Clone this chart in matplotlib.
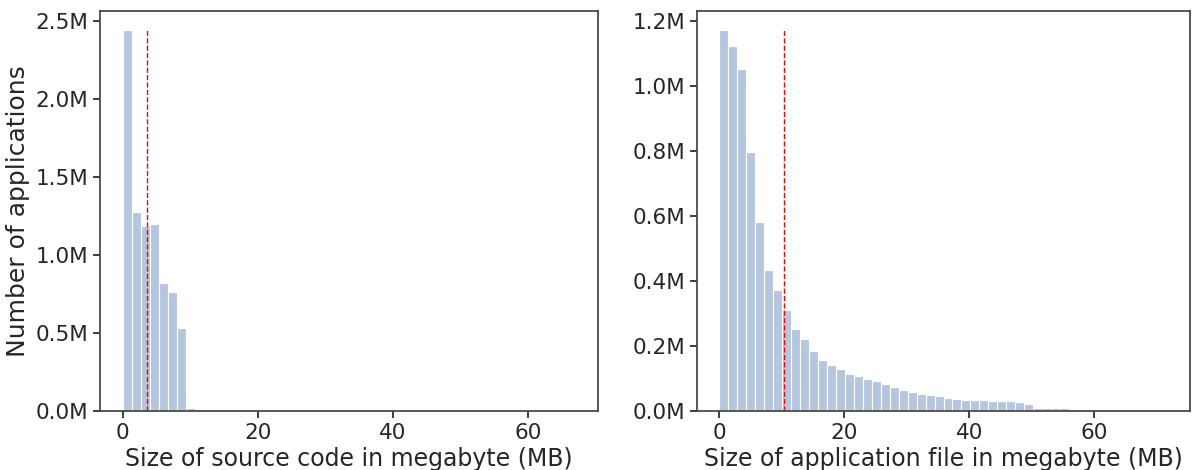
import numpy as np
import matplotlib
matplotlib.use('Agg')
import matplotlib.pyplot as plt
from matplotlib.ticker import FuncFormatter, MultipleLocator
import seaborn as sns

# bin counts (millions), 50 equal bins each
src_counts = [2.444, 1.277, 1.189, 1.202, 0.823, 0.761, 0.533, 0.019] + [0.0] * 41 + [0.0005]
src_max = 67.0
src_mean = 3.57

app_counts = [1.173, 1.123, 1.053, 0.797, 0.581, 0.435, 0.373, 0.312, 0.253, 0.221,
              0.185, 0.157, 0.142, 0.130, 0.114, 0.107, 0.099, 0.093, 0.083, 0.074,
              0.065, 0.057, 0.052, 0.048, 0.045, 0.040, 0.037, 0.035, 0.035, 0.034,
              0.032, 0.032, 0.032, 0.028, 0.022, 0.010, 0.010, 0.009, 0.009, 0.007,
              0.007, 0.007, 0.007, 0.007, 0.007, 0.006, 0.006, 0.006, 0.005, 0.002]
app_max = 71.7
app_mean = 10.37

sns.set_theme(style='ticks')
plt.rcParams['font.family'] = ['DejaVu Sans']

fig = plt.figure(figsize=(11.94, 4.70), dpi=100)
ax1 = fig.add_axes([100/1194, 1-411/470, 498/1194, 400/470])
ax2 = fig.add_axes([697/1194, 1-411/470, 493/1194, 400/470])

bar_col = '#b6c6df'
fmt = FuncFormatter(lambda v, p: '%.1fM' % (v / 1e6))

def draw(ax, counts, xmax, mean, step, xlabel):
    counts = np.array(counts) * 1e6
    edges = np.linspace(0, xmax, len(counts) + 1)
    ax.bar(edges[:-1], counts, width=edges[1] - edges[0], align='edge',
           color=bar_col, edgecolor='white', linewidth=0.8)
    ax.vlines(mean, 0, counts.max(), colors='red', linestyles='--', linewidth=1)
    ax.yaxis.set_major_locator(MultipleLocator(step))
    ax.yaxis.set_major_formatter(fmt)
    ax.xaxis.set_major_locator(MultipleLocator(20))
    ax.set_xlabel(xlabel, fontsize=17, labelpad=3)
    ax.tick_params(labelsize=15.5, length=5)
    for s in ax.spines.values():
        s.set_color('#444444')

draw(ax1, src_counts, src_max, src_mean, 0.5e6, 'Size of source code in megabyte (MB)')
draw(ax2, app_counts, app_max, app_mean, 0.2e6, 'Size of application file in megabyte (MB)')
ax1.set_ylabel('Number of applications', fontsize=18)

fig.savefig('out.png', dpi=100)
